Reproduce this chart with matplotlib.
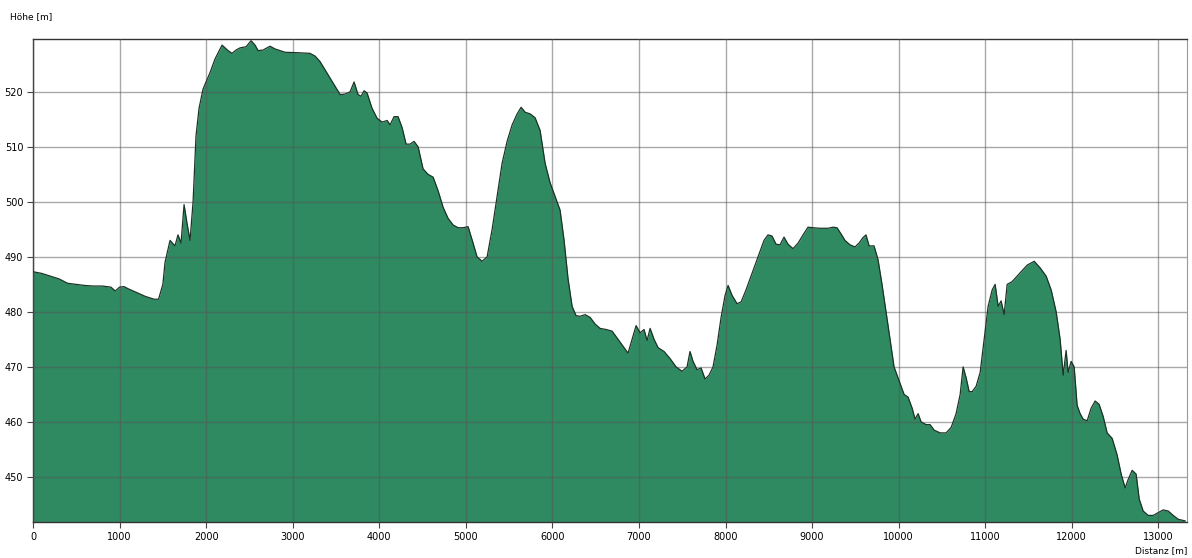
import numpy as np
import matplotlib.pyplot as plt

dist = [0, 100, 200, 300, 400, 500, 600, 700, 800, 900, 950, 1000, 1050, 1100, 1200,
        1300, 1400, 1450, 1500, 1525, 1583, 1640, 1675, 1710, 1745, 1780, 1814, 1849,
        1883, 1918, 1964, 2045, 2103, 2184, 2253, 2299, 2345, 2392, 2461, 2519, 2565,
        2600, 2657, 2738, 2796, 2912, 3085, 3200, 3259, 3316, 3374, 3432, 3490, 3548,
        3605, 3663, 3709, 3755, 3790, 3825, 3859, 3917, 3975, 4033, 4091, 4125, 4171,
        4217, 4264, 4310, 4356, 4402, 4449, 4506, 4564, 4622, 4680, 4738, 4795, 4853,
        4911, 4969, 5026, 5084, 5130, 5188, 5246, 5304, 5361, 5419, 5477, 5535, 5593,
        5639, 5685, 5743, 5800, 5858, 5916, 5973, 6031, 6089, 6135, 6181, 6228, 6274,
        6320, 6378, 6436, 6493, 6551, 6620, 6690, 6759, 6828, 6874, 6920, 6967, 7013,
        7059, 7094, 7129, 7175, 7221, 7290, 7360, 7429, 7498, 7556, 7590, 7625, 7671,
        7718, 7764, 7810, 7856, 7903, 7949, 7995, 8030, 8076, 8133, 8180, 8237, 8295,
        8353, 8399, 8445, 8491, 8537, 8584, 8630, 8676, 8722, 8780, 8838, 8896, 8953,
        9011, 9092, 9184, 9242, 9288, 9334, 9380, 9438, 9496, 9542, 9588, 9623, 9659,
        9716, 9762, 9808, 9855, 9901, 9947, 10005, 10063, 10109, 10156, 10190, 10225,
        10260, 10318, 10364, 10410, 10480, 10549, 10607, 10664, 10711, 10745, 10780,
        10815, 10850, 10896, 10942, 10988, 11034, 11081, 11115, 11150, 11184, 11219,
        11254, 11311, 11369, 11427, 11485, 11566, 11635, 11704, 11762, 11820, 11866,
        11901, 11935, 11958, 11993, 12028, 12062, 12097, 12132, 12178, 12224, 12270,
        12316, 12363, 12409, 12467, 12524, 12571, 12617, 12651, 12698, 12744, 12779,
        12825, 12883, 12941, 12998, 13056, 13114, 13172, 13229, 13310]
hoehe = [487.3, 487.0, 486.5, 486.0, 485.2, 485.0, 484.8, 484.7, 484.7, 484.5, 483.8,
         484.5, 484.6, 484.2, 483.5, 482.8, 482.3, 482.3, 485.0, 489.0, 493.0, 492.0,
         494.0, 492.5, 499.5, 496.0, 493.0, 500.0, 512.0, 517.0, 520.5, 523.5, 526.0,
         528.5, 527.5, 527.0, 527.6, 528.0, 528.2, 529.3, 528.5, 527.5, 527.6, 528.3,
         527.8, 527.2, 527.1, 527.0, 526.5, 525.5, 524.0, 522.5, 521.0, 519.5, 519.6,
         520.0, 521.8, 519.5, 519.2, 520.2, 519.8, 517.0, 515.2, 514.5, 514.8, 514.0,
         515.5, 515.5, 513.5, 510.5, 510.5, 511.0, 510.0, 506.0, 505.0, 504.5, 502.0,
         499.0, 497.0, 495.8, 495.3, 495.3, 495.5, 492.5, 490.0, 489.2, 490.0, 495.0,
         501.0, 507.0, 511.0, 514.0, 516.0, 517.2, 516.3, 516.0, 515.3, 513.0, 507.0,
         503.5, 501.0, 498.5, 493.0, 486.0, 481.0, 479.3, 479.2, 479.5, 479.0, 477.8,
         477.0, 476.8, 476.5, 475.0, 473.5, 472.5, 475.0, 477.5, 476.2, 476.8, 474.8,
         477.0, 475.0, 473.5, 472.8, 471.5, 470.0, 469.2, 470.0, 472.8, 471.0, 469.5,
         469.8, 467.8, 468.5, 470.0, 474.0, 479.0, 483.0, 484.8, 483.0, 481.5, 481.8,
         484.0, 486.5, 489.0, 491.0, 493.0, 494.0, 493.8, 492.3, 492.2, 493.6, 492.3,
         491.5, 492.5, 494.0, 495.4, 495.3, 495.2, 495.2, 495.4, 495.3, 494.2, 493.0,
         492.2, 491.8, 492.5, 493.5, 494.0, 492.0, 492.0, 489.5, 485.0, 480.0, 475.0,
         470.0, 467.5, 465.0, 464.5, 462.5, 460.5, 461.5, 460.0, 459.5, 459.5, 458.5,
         458.0, 458.0, 459.0, 461.5, 465.0, 470.0, 468.0, 465.5, 465.5, 466.5, 469.0,
         475.0, 481.0, 484.0, 485.0, 481.0, 482.0, 479.5, 485.0, 485.5, 486.5, 487.5,
         488.5, 489.2, 488.0, 486.5, 484.0, 480.0, 475.0, 468.5, 473.0, 469.0, 471.0,
         470.0, 463.0, 461.5, 460.5, 460.2, 462.5, 463.8, 463.2, 461.0, 458.0, 457.0,
         454.0, 450.5, 448.0, 449.5, 451.2, 450.5, 446.0, 443.8, 443.0, 443.0, 443.5,
         444.0, 443.8, 443.0, 442.3, 442.0]

x_ticks = np.arange(0, 13001, 1000)
y_ticks = np.arange(450, 521, 10)

fig = plt.figure(figsize=(11.92, 5.58), dpi=100)
ax = fig.add_axes([0.0277, 0.0645, 0.968, 0.8655])

ymin = 441.8
ax.fill_between(dist, hoehe, ymin, color='#2f8a62', lw=0, zorder=1)
ax.plot(dist, hoehe, color='#1c3326', lw=0.9, zorder=3)

ax.set_xlim(0, 13330)
ax.set_ylim(ymin, 529.6)
ax.set_xticks(x_ticks)
ax.set_yticks(y_ticks)
ax.tick_params(labelsize=7, length=4, width=0.8, color='#444', pad=3)
ax.grid(True, color='#555555', alpha=0.5, lw=1.0, zorder=2)
ax.set_axisbelow(False)

for s in ['left', 'bottom', 'top']:
    ax.spines[s].set_color('#333333')
    ax.spines[s].set_linewidth(1.0)
ax.spines['right'].set_color('#999999')

fig.text(10 / 1192, 1 - 17 / 558, 'Höhe [m]', fontsize=6.5, va='center', ha='left')
fig.text(1187 / 1192, 1 - 551 / 558, 'Distanz [m]', fontsize=6.5, va='center', ha='right')

fig.savefig('out.png', dpi=100)
